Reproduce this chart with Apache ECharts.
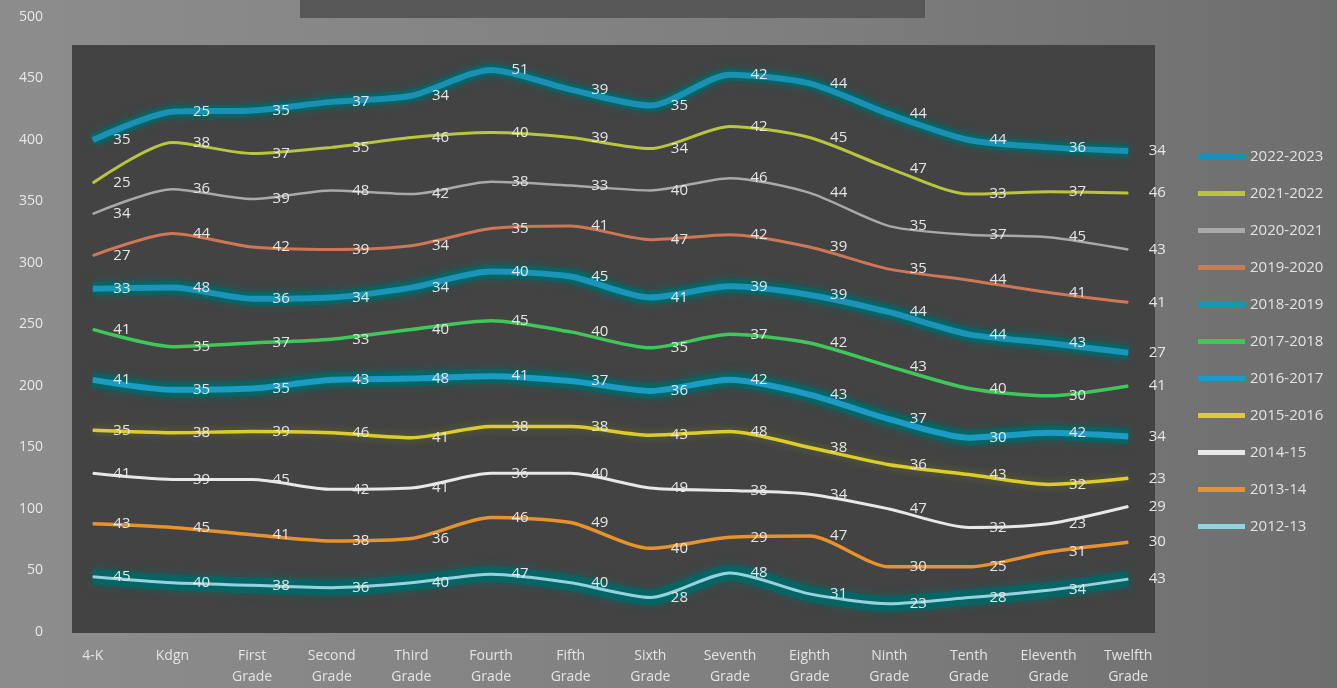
<!DOCTYPE html>
<html>
<head>
<meta charset="utf-8">
<script src="https://cdn.jsdelivr.net/npm/echarts@6/dist/echarts.min.js"></script>
<style>
  html, body { margin: 0; padding: 0; }
  #chart { width: 1337px; height: 688px; }
</style>
</head>
<body>
<div id="chart"></div>
<script>
// Grade levels along the x axis
const categories = ['4-K', 'Kdgn', 'First\nGrade', 'Second\nGrade', 'Third\nGrade', 'Fourth\nGrade',
  'Fifth\nGrade', 'Sixth\nGrade', 'Seventh\nGrade', 'Eighth\nGrade', 'Ninth\nGrade',
  'Tenth\nGrade', 'Eleventh\nGrade', 'Twelfth\nGrade'];

// Yearly counts per grade (stacked from the oldest year upward)
const y2012_13   = [45, 40, 38, 36, 40, 47, 40, 28, 48, 31, 23, 28, 34, 43];
const y2013_14   = [43, 45, 41, 38, 36, 46, 49, 40, 29, 47, 30, 25, 31, 30];
const y2014_15   = [41, 39, 45, 42, 41, 36, 40, 49, 38, 34, 47, 32, 23, 29];
const y2015_2016 = [35, 38, 39, 46, 41, 38, 38, 43, 48, 38, 36, 43, 32, 23];
const y2016_2017 = [41, 35, 35, 43, 48, 41, 37, 36, 42, 43, 37, 30, 42, 34];
const y2017_2018 = [41, 35, 37, 33, 40, 45, 40, 35, 37, 42, 43, 40, 30, 41];
const y2018_2019 = [33, 48, 36, 34, 34, 40, 45, 41, 39, 39, 44, 44, 43, 27];
const y2019_2020 = [27, 44, 42, 39, 34, 35, 41, 47, 42, 39, 35, 44, 41, 41];
const y2020_2021 = [34, 36, 39, 48, 42, 38, 33, 40, 46, 44, 35, 37, 45, 43];
const y2021_2022 = [25, 38, 37, 35, 46, 40, 39, 34, 42, 45, 47, 33, 37, 46];
const y2022_2023 = [35, 25, 35, 37, 34, 51, 39, 35, 42, 44, 44, 44, 36, 34];

// Y axis range
const yMin = 0;
const yMax = 500;
const yStep = 50;

const seriesDefs = [
  { name: '2012-13',   data: y2012_13,   color: '#93d3e0', width: 3, halo: 16 },
  { name: '2013-14',   data: y2013_14,   color: '#e8922e', width: 3.5 },
  { name: '2014-15',   data: y2014_15,   color: '#e8e8e8', width: 3 },
  { name: '2015-2016', data: y2015_2016, color: '#dccd2c', width: 3.5, glow: 'rgba(120,130,30,0.7)', blur: 8 },
  { name: '2016-2017', data: y2016_2017, color: '#1b9cc4', width: 6, halo: 15 },
  { name: '2017-2018', data: y2017_2018, color: '#3fc75a', width: 3.5 },
  { name: '2018-2019', data: y2018_2019, color: '#1a95b8', width: 6, halo: 14 },
  { name: '2019-2020', data: y2019_2020, color: '#cf7654', width: 3 },
  { name: '2020-2021', data: y2020_2021, color: '#a9a9a9', width: 2.5 },
  { name: '2021-2022', data: y2021_2022, color: '#b9c53c', width: 3 },
  { name: '2022-2023', data: y2022_2023, color: '#1a90b2', width: 6, halo: 12 }
];

const labelFont = '"Open Sans", "Noto Sans", sans-serif';
const smoothness = 0.25;

// Running totals, used for the soft teal halo drawn under some lines
const running = categories.map(() => 0);
const haloSeries = [];
seriesDefs.forEach(s => {
  s.data.forEach((v, i) => { running[i] += v; });
  if (s.halo) {
    haloSeries.push({
      name: s.name + ' halo',
      type: 'line',
      data: running.slice(),
      smooth: smoothness,
      symbol: 'none',
      silent: true,
      legendHoverLink: false,
      lineStyle: {
        color: 'rgba(0,105,105,0.75)',
        width: s.halo,
        shadowColor: 'rgba(0,105,105,0.8)',
        shadowBlur: 8
      },
      z: 1
    });
  }
});

const chart = echarts.init(document.getElementById('chart'), null, { renderer: 'canvas' });

chart.setOption({
  backgroundColor: {
    type: 'linear', x: 0, y: 0, x2: 1, y2: 0,
    colorStops: [
      { offset: 0, color: '#8d8d8d' },
      { offset: 0.6, color: '#7e7e7e' },
      { offset: 1, color: '#6e6e6e' }
    ]
  },
  animation: false,
  graphic: [
    { type: 'rect', z: 0, shape: { x: 72, y: 45, width: 1083, height: 588 }, style: { fill: '#434343' } },
    { type: 'rect', z: 0, shape: { x: 300, y: 0, width: 625, height: 18 }, style: { fill: '#575757' } }
  ],
  grid: { left: 53, right: 169, top: 17, bottom: 54, containLabel: false },
  legend: {
    orient: 'vertical',
    left: 1193,
    top: 142,
    itemWidth: 47,
    itemHeight: 5,
    itemGap: 18,
    icon: 'rect',
    data: seriesDefs.slice().reverse().map(s => s.name),
    textStyle: { color: '#e2e2e2', fontSize: 15, fontFamily: labelFont, lineHeight: 19 },
    itemStyle: { borderWidth: 0 }
  },
  xAxis: {
    type: 'category',
    data: categories,
    boundaryGap: true,
    axisLine: { show: false },
    axisTick: { show: false },
    axisLabel: {
      color: '#e4e4e4', fontSize: 14, fontFamily: labelFont,
      margin: 14, lineHeight: 21, interval: 0
    }
  },
  yAxis: {
    type: 'value',
    min: yMin, max: yMax, interval: yStep,
    splitLine: { show: false },
    axisLine: { show: false },
    axisTick: { show: false },
    axisLabel: { color: '#e8e8e8', fontSize: 14, fontFamily: labelFont, margin: 10 }
  },
  series: haloSeries.concat(seriesDefs.map(s => ({
    name: s.name,
    type: 'line',
    stack: 'total',
    data: s.data,
    smooth: smoothness,
    symbol: 'circle',
    symbolSize: 1,
    showSymbol: true,
    showAllSymbol: true,
    color: s.color,
    lineStyle: {
      color: s.color,
      width: s.width,
      shadowColor: s.glow || 'rgba(0,0,0,0)',
      shadowBlur: s.blur || 0
    },
    itemStyle: { color: s.color, borderWidth: 0 },
    label: {
      show: true,
      position: 'right',
      distance: 20,
      color: '#e6e6e6',
      fontSize: 15,
      fontFamily: labelFont
    },
    z: 3
  })))
});
</script>
</body>
</html>
